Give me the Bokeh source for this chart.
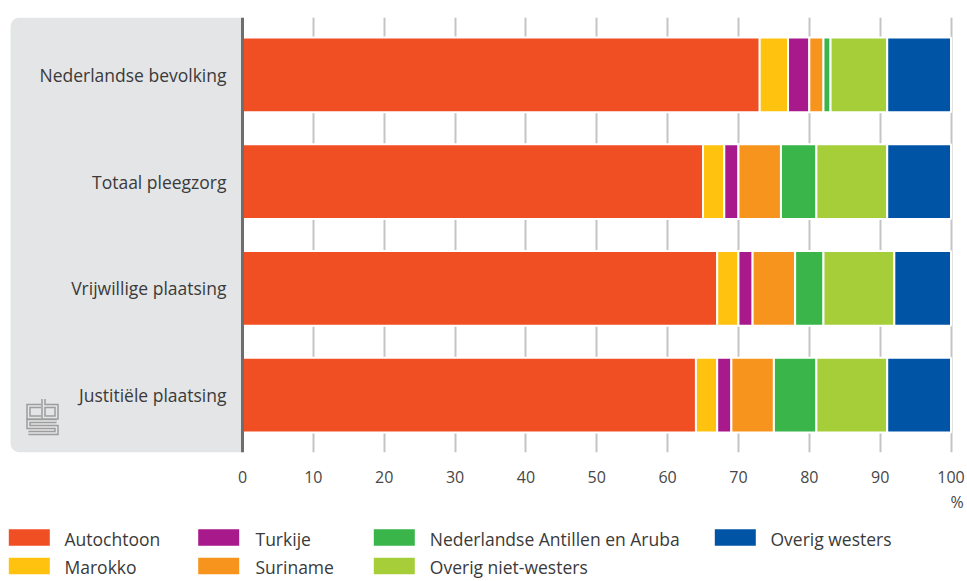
from bokeh.plotting import figure
from bokeh.models import Range1d, FactorRange, FixedTicker, ColumnDataSource, BoxAnnotation, Span
from bokeh.layouts import column
from bokeh.core.properties import value
from bokeh.embed import file_html
from bokeh.resources import INLINE

# ---------------- data ----------------
categories = ["Nederlandse bevolking", "Totaal pleegzorg", "Vrijwillige plaatsing", "Justitiële plaatsing"]
series = ["Autochtoon", "Marokko", "Turkije", "Suriname",
          "Nederlandse Antillen en Aruba", "Overig niet-westers", "Overig westers"]
autochtoon = [73, 65, 67, 64]
marokko = [4, 3, 3, 3]
turkije = [3, 2, 2, 2]
suriname = [2, 6, 6, 6]
antillen = [1, 5, 4, 6]
niet_westers = [8, 10, 10, 10]
westers = [9, 9, 8, 9]
colors = ["#f04e23", "#ffc20e", "#a8198c", "#f7941d", "#39b54a", "#a6ce39", "#0054a6"]
x_ticks = [0, 10, 20, 30, 40, 50, 60, 70, 80, 90, 100]
unit_label = "%"

FONT = "Open Sans"
TXT = "#3a3a3a"

# ---------------- layout constants ----------------
W = 967
H_MAIN = 490
H_LEG = 91
PXU = 7.085            # pixels per percent
ZERO_PX = 242.0        # x pixel of 0
x0 = -ZERO_PX / PXU
x1 = x0 + W / PXU
HALF = 0.0365
FRAME_TOP = 17
FRAME_BOTTOM = 452
FRAME_H = FRAME_BOTTOM - FRAME_TOP
SP = FRAME_H / (len(categories) + 2 * HALF)
Y_END = len(categories) + HALF

def px_x(px):
    return x0 + px / PXU

def px_y(py):
    return Y_END - (py - FRAME_TOP) / SP

data = {"cat": categories}
for name, vals in zip(series, [autochtoon, marokko, turkije, suriname, antillen, niet_westers, westers]):
    data[name] = vals
src = ColumnDataSource(data)

p = figure(width=W, height=H_MAIN, output_backend="svg", toolbar_location=None,
           x_range=Range1d(x0, x1),
           y_range=FactorRange(factors=categories[::-1], range_padding=HALF,
                               range_padding_units="absolute"),
           min_border_left=0, min_border_right=0, min_border_top=FRAME_TOP,
           min_border_bottom=H_MAIN - FRAME_BOTTOM, y_axis_location=None)
p.outline_line_color = None
p.background_fill_color = "white"

# grey panel
p.add_layout(BoxAnnotation(left=px_x(10), right=0, fill_color="#e4e5e6", fill_alpha=1,
                           line_color=None, border_radius=(9, 0, 0, 9), level="underlay"))

# grid
p.ygrid.visible = False
p.xgrid.ticker = FixedTicker(ticks=x_ticks[1:])
p.xgrid.grid_line_color = "#c4c4c4"
p.xgrid.grid_line_width = 2

# axis
p.xaxis.ticker = FixedTicker(ticks=x_ticks)
p.xaxis.axis_line_color = None
p.xaxis.major_tick_line_color = None
p.xaxis.minor_tick_line_color = None
p.xaxis.major_label_standoff = 12
p.xaxis.major_label_text_font = FONT
p.xaxis.major_label_text_font_size = "16px"
p.xaxis.major_label_text_color = "#474747"

p.hbar_stack(series, y="cat", height=0.7, color=colors, source=src,
             line_color="white", line_width=2)

p.add_layout(Span(location=0, dimension="height", line_color="#6e6e6e", line_width=3))

p.text(x=0, y="cat", text="cat", source=src, x_offset=-16, text_align="right",
       text_baseline="middle", text_font=value(FONT), text_font_size="17.5px", text_color=TXT)

# cbs logo (decorative)
logo_paths = [
    [(40.5, 405.5), (28, 405.5), (28, 417), (40.5, 417)],
    [(43, 398.5), (43, 417), (56, 417), (56, 405.5), (43, 405.5)],
    [(56, 420.5), (28, 420.5), (28, 426.5), (56, 426.5), (56, 432.5), (28, 432.5)],
]
lx = [[px_x(a) for a, b in path] for path in logo_paths]
ly = [[px_y(b) for a, b in path] for path in logo_paths]
p.multi_line(lx, ly, line_color="#9d9d9d", line_width=4.5, line_join="miter")
p.multi_line(lx, ly, line_color="#e4e5e6", line_width=1.5, line_join="miter")

# ---------------- legend figure ----------------
lf = figure(width=W, height=H_LEG, output_backend="svg", toolbar_location=None,
            x_range=Range1d(0, W), y_range=Range1d(H_LEG, 0), min_border=0,
            x_axis_location=None, y_axis_location=None)
lf.outline_line_color = None
lf.grid.visible = False

col_left = [8.3, 197.7, 373.3, 714.3]
col_text = [64, 255, 429.3, 770]
row_c = [47.0, 75.5]
sw_w, sw_h = 41, 16.7
lefts, rights, tops, bottoms, tx, ty = [], [], [], [], [], []
for i, name in enumerate(series):
    c, r = i // 2, i % 2
    lefts.append(col_left[c]); rights.append(col_left[c] + sw_w)
    tops.append(row_c[r] - sw_h / 2); bottoms.append(row_c[r] + sw_h / 2)
    tx.append(col_text[c]); ty.append(row_c[r] + 1.0)
lsrc = ColumnDataSource(dict(left=lefts, right=rights, top=tops, bottom=bottoms,
                             x=tx, y=ty, name=series, color=colors))
lf.quad(left="left", right="right", top="top", bottom="bottom", fill_color="color",
        line_color=None, source=lsrc)
lf.text(x="x", y="y", text="name", source=lsrc, text_baseline="middle", text_align="left",
        text_font=value(FONT), text_font_size="17.5px", text_color=TXT)
lf.text(x=[956.7], y=[11.7], text=[unit_label], text_align="center", text_baseline="middle",
        text_font=value(FONT), text_font_size="16px", text_color="#474747")

layout = column(p, lf, spacing=0)
open("out.html", "w").write(file_html(layout, INLINE))
